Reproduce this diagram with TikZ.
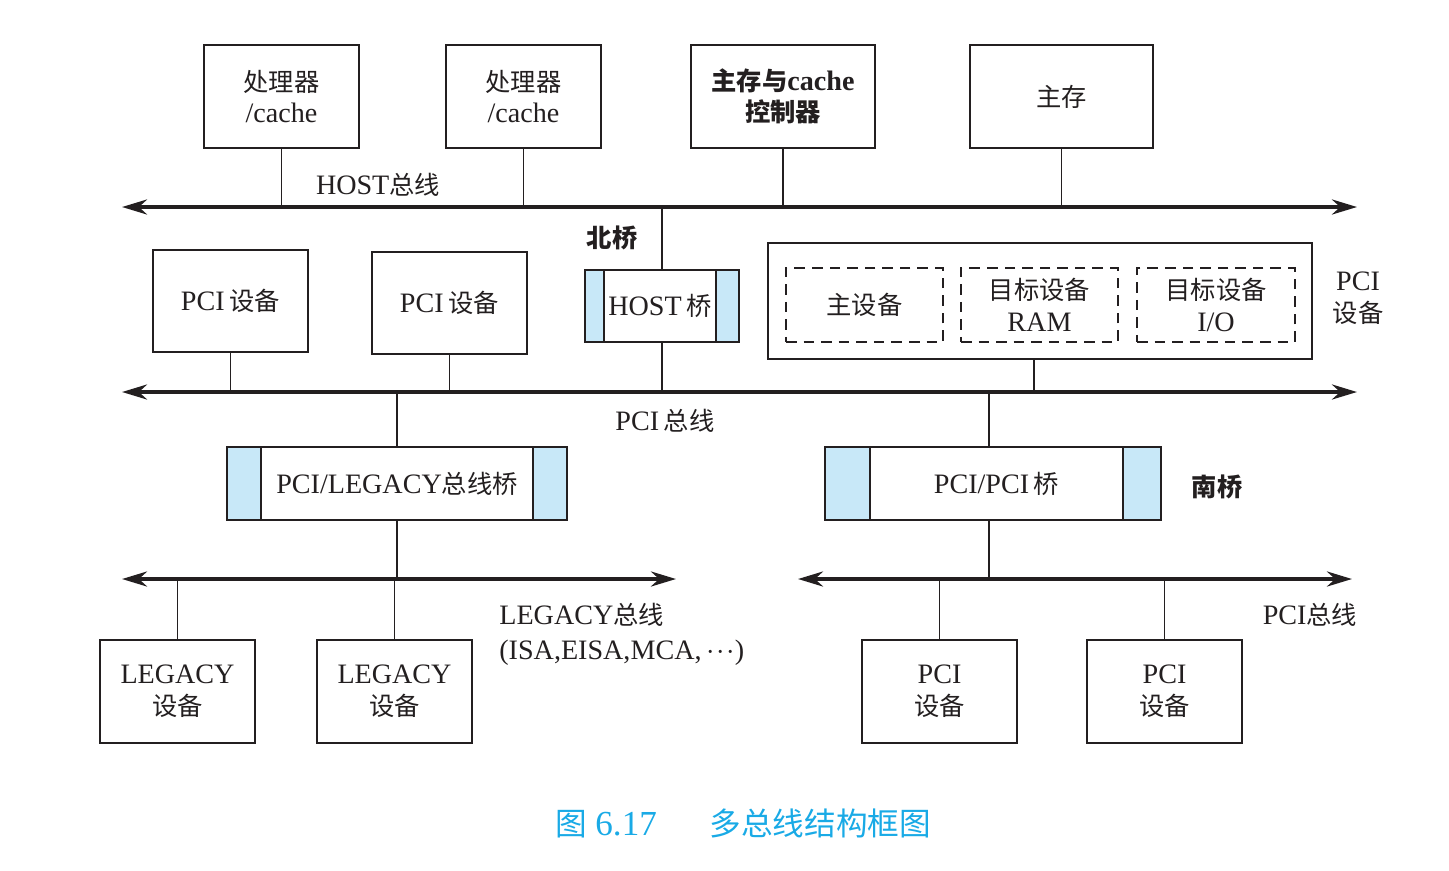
\documentclass[tikz,border=0pt]{standalone}
\usepackage{fontspec}
\setmainfont{Liberation Serif}
\newfontfamily\cjk{Noto Sans CJK SC}[Scale=0.9]
\usetikzlibrary{arrows.meta}

\definecolor{bridgeblue}{RGB}{200,232,248}
\definecolor{captionblue}{RGB}{25,170,230}
\definecolor{inkgray}{RGB}{35,31,32}

\newcommand{\zh}[1]{{\cjk #1}}

\tikzset{
  mb-box/.style={draw=inkgray, line width=1.1pt, minimum width=3.1cm, minimum height=2.06cm, align=center, inner sep=0pt, text=inkgray},
  mb-dash/.style={draw=inkgray, dashed, dash pattern=on 6pt off 4pt, line width=1pt, minimum width=3.14cm, minimum height=1.48cm, align=center, inner sep=0pt, text=inkgray},
  mb-bridge/.style={draw=inkgray, fill=bridgeblue, line width=1.1pt, minimum height=1.46cm, inner sep=0pt},
  mb-inner/.style={draw=inkgray, fill=white, line width=1.1pt, minimum height=1.46cm, inner sep=0pt, text=inkgray},
  mb-bus/.style={{Stealth[length=5mm,width=3mm]}-{Stealth[length=5mm,width=3mm]}, line width=2.2pt, draw=inkgray},
  mb-stem/.style={line width=0.9pt, draw=inkgray},
  mb-label/.style={text=inkgray, align=center, inner sep=0pt},
}

\begin{document}
\begin{tikzpicture}[x=0.02cm, y=-0.02cm, font=\fontsize{16}{18}\selectfont]
    \useasboundingbox (0,0) rectangle (1449,870);

    % Nodes: Top row (host side)
    \node[mb-box] (cpuA) at (281.5, 96.5) {\zh{处理器}\\/cache};
    \node[mb-box] (cpuB) at (523.5, 96.5) {\zh{处理器}\\/cache};
    \node[mb-box, minimum width=3.68cm, font=\fontsize{16}{18}\selectfont\bfseries] (memctl) at (783, 96.5) {\zh{主存与}cache\\\zh{控制器}};
    \node[mb-box, minimum width=3.66cm] (mem) at (1061.5, 96.5) {\zh{主存}};

    % Buses
    \coordinate (hostL) at (122, 207);
    \coordinate (hostR) at (1357, 207);
    \coordinate (pciL) at (122, 392);
    \coordinate (pciR) at (1357, 392);
    \coordinate (legL) at (122, 579);
    \coordinate (legR) at (676, 579);
    \coordinate (spL) at (798, 579);
    \coordinate (spR) at (1352, 579);

    % Nodes: Middle row (PCI side)
    \node[mb-box, minimum height=2.04cm] (pciA) at (230.5, 301) {PCI\,\zh{设备}};
    \node[mb-box, minimum height=2.04cm] (pciB) at (449.5, 303) {PCI\,\zh{设备}};
    \node[mb-bridge, minimum width=3.08cm, minimum height=1.44cm] (hostbr) at (662, 306) {};
    \node[mb-inner, minimum width=2.24cm, minimum height=1.44cm] (hostbrI) at (660, 306) {HOST\,\zh{桥}};
    \node[mb-box, minimum width=10.88cm, minimum height=2.32cm] (pcidev) at (1040, 301) {};
    \node[mb-dash] (master) at (864.5, 305) {\zh{主设备}};
    \node[mb-dash] (ram) at (1039.5, 305) {\zh{目标设备}\\RAM};
    \node[mb-dash, minimum width=3.16cm] (io) at (1216, 305) {\zh{目标设备}\\I/O};

    % Nodes: Bridges to the lower buses
    \node[mb-bridge, minimum width=6.8cm] (legbr) at (397, 483.5) {};
    \node[mb-inner, minimum width=5.44cm] (legbrI) at (397, 483.5) {PCI/LEGACY\zh{总线桥}};
    \node[mb-bridge, minimum width=6.72cm] (pcibr) at (993, 483.5) {};
    \node[mb-inner, minimum width=5.06cm] (pcibrI) at (996.5, 483.5) {PCI/PCI\,\zh{桥}};

    % Nodes: Bottom row (devices)
    \node[mb-box] (legA) at (177.5, 691.5) {LEGACY\\\zh{设备}};
    \node[mb-box] (legB) at (394.5, 691.5) {LEGACY\\\zh{设备}};
    \node[mb-box] (pciC) at (939.5, 691.5) {PCI\\\zh{设备}};
    \node[mb-box] (pciD) at (1164.5, 691.5) {PCI\\\zh{设备}};

    % Edges: Buses
    \draw[mb-bus] (hostL) -- (hostR);
    \draw[mb-bus] (pciL) -- (pciR);
    \draw[mb-bus] (legL) -- (legR);
    \draw[mb-bus] (spL) -- (spR);

    % Edges: Stems onto the buses
    \draw[mb-stem] (cpuA.south) -- (cpuA.south |- hostL);
    \draw[mb-stem] (cpuB.south) -- (cpuB.south |- hostL);
    \draw[mb-stem] (memctl.south) -- (memctl.south |- hostL);
    \draw[mb-stem] (mem.south) -- (mem.south |- hostL);
    \draw[mb-stem] (hostbr.north |- hostL) -- (hostbr.north);
    \draw[mb-stem] (hostbr.south) -- (hostbr.south |- pciL);
    \draw[mb-stem] (pciA.south) -- (pciA.south |- pciL);
    \draw[mb-stem] (pciB.south) -- (pciB.south |- pciL);
    \draw[mb-stem] ([xshift=-0.12cm]pcidev.south) -- ([xshift=-0.12cm]pcidev.south |- pciL);
    \draw[mb-stem] (legbr.north |- pciL) -- (legbr.north);
    \draw[mb-stem] ([xshift=-0.08cm]pcibr.north |- pciL) -- ([xshift=-0.08cm]pcibr.north);
    \draw[mb-stem] (legbr.south) -- (legbr.south |- legL);
    \draw[mb-stem] ([xshift=-0.08cm]pcibr.south) -- ([xshift=-0.08cm]pcibr.south |- spL);
    \draw[mb-stem] (legA.north) -- (legA.north |- legL);
    \draw[mb-stem] (legB.north) -- (legB.north |- legL);
    \draw[mb-stem] (pciC.north) -- (pciC.north |- spL);
    \draw[mb-stem] (pciD.north) -- (pciD.north |- spL);

    % Labels
    \node[mb-label] (hostbus) at (378, 185) {HOST\zh{总线}};
    \node[mb-label] (pcibus) at (665, 421) {PCI\,\zh{总线}};
    \node[mb-label, font=\fontsize{16}{18}\selectfont\bfseries] (north) at (612, 238) {\zh{北桥}};
    \node[mb-label, font=\fontsize{16}{18}\selectfont\bfseries] (south) at (1217, 487) {\zh{南桥}};
    \node[mb-label] (pcidevlab) at (1358, 298) {PCI\\\zh{设备}};
    \node[mb-label, align=left, anchor=west, font=\fontsize{16}{20}\selectfont] (legbus) at (499, 634) {LEGACY\zh{总线}\\(ISA,EISA,MCA,\,$\cdot\!\cdot\!\cdot$)};
    \node[mb-label] (spbus) at (1310, 615) {PCI\zh{总线}};

    % Caption
    \node[text=captionblue, font=\fontsize{20}{24}\selectfont, inner sep=0pt] (caption) at (743, 823) {\zh{图} 6.17\hspace{1.5em}\zh{多总线结构框图}};

\end{tikzpicture}
\end{document}
